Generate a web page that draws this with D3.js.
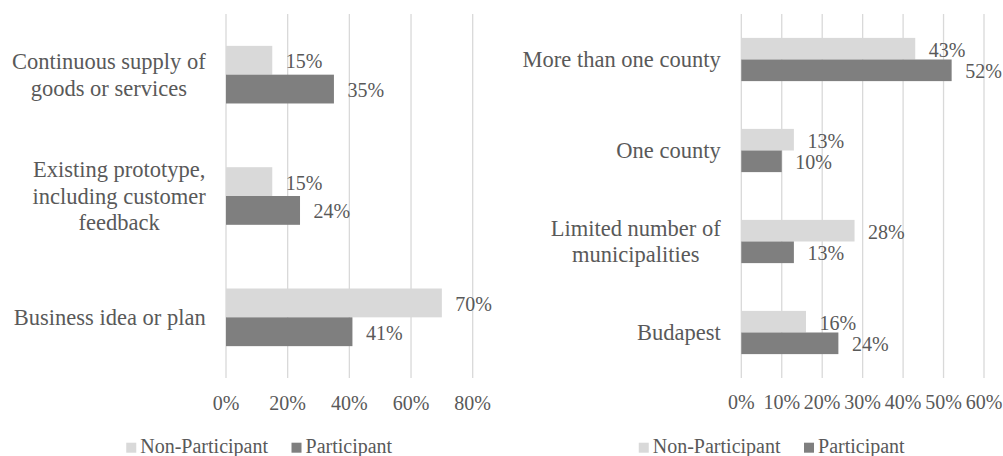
<!DOCTYPE html>
<html>
<head>
<meta charset="utf-8">
<script src="https://cdn.jsdelivr.net/npm/d3@7"></script>
<style>
  body { margin: 0; background: #fff; }
  svg { display: block; }
</style>
</head>
<body>
<svg id="chart" width="1003" height="456"></svg>
<script>
// data
const seriesNames = ["Non-Participant", "Participant"];
const seriesColors = ["#d9d9d9", "#7f7f7f"];

const leftCategories = [
  "Continuous supply of\ngoods or services",
  "Existing prototype,\nincluding customer\nfeedback",
  "Business idea or plan"
];
const leftNonParticipant = [15, 15, 70];
const leftParticipant = [35, 24, 41];
const leftTicks = [0, 20, 40, 60, 80];

const rightCategories = [
  "More than one county",
  "One county",
  "Limited number of\nmunicipalities",
  "Budapest"
];
const rightNonParticipant = [43, 13, 28, 16];
const rightParticipant = [52, 10, 13, 24];
const rightTicks = [0, 10, 20, 30, 40, 50, 60];

const FONT = "Liberation Serif";
const TEXT_COLOR = "#595959";

const svg = d3.select("#chart");

function label(sel, size) {
  return sel.attr("font-family", FONT)
    .attr("font-size", size)
    .attr("fill", TEXT_COLOR);
}

function drawPanel(opts) {
  const g = svg.append("g");
  const rows = opts.categories.map((c, i) => ({
    name: c,
    values: [opts.non[i], opts.part[i]]
  }));

  const x = d3.scaleLinear()
    .domain([0, d3.max(opts.ticks)])
    .range([opts.left, opts.right]);

  const y = d3.scaleBand()
    .domain(opts.categories)
    .range([opts.top, opts.bottom])
    .paddingInner(0.525)
    .paddingOuter(0.2625);

  const ySub = d3.scaleBand()
    .domain(seriesNames)
    .range([0, y.bandwidth()]);

  // gridlines
  g.append("g")
    .selectAll("line")
    .data(opts.ticks)
    .join("line")
    .attr("x1", d => x(d))
    .attr("x2", d => x(d))
    .attr("y1", opts.top)
    .attr("y2", opts.bottom)
    .attr("stroke", "#d9d9d9")
    .attr("stroke-width", 1.3);

  // tick labels
  g.append("g")
    .selectAll("text")
    .data(opts.ticks)
    .join("text")
    .call(label, 20)
    .attr("x", d => x(d))
    .attr("y", opts.tickY)
    .attr("text-anchor", "middle")
    .text(d => d + "%");

  // bars
  const grp = g.append("g")
    .selectAll("g")
    .data(rows)
    .join("g")
    .attr("transform", d => `translate(0,${y(d.name)})`);

  grp.selectAll("rect")
    .data(d => d.values.map((v, i) => ({ key: seriesNames[i], v, i })))
    .join("rect")
    .attr("x", x(0))
    .attr("y", d => ySub(d.key))
    .attr("width", d => x(d.v) - x(0))
    .attr("height", ySub.bandwidth())
    .attr("fill", d => seriesColors[d.i]);

  grp.selectAll("text")
    .data(d => d.values.map((v, i) => ({ key: seriesNames[i], v, i })))
    .join("text")
    .call(label, 20)
    .attr("x", d => x(d.v) + 13.5)
    .attr("y", d => ySub(d.key) + ySub.bandwidth() / 2 + 8)
    .text(d => d.v + "%");

  // category labels: block right-aligned, lines centred within block
  const lh = 26.7;
  rows.forEach(r => {
    const lines = r.name.split("\n");
    const cy = y(r.name) + y.bandwidth() / 2;
    const t = g.append("text")
      .call(label, 22.5)
      .attr("text-anchor", "middle");
    const spans = lines.map((ln, i) => t.append("tspan")
      .attr("y", cy + 7.5 + (i - (lines.length - 1) / 2) * lh)
      .text(ln));
    const w = d3.max(spans, s => s.node().getComputedTextLength());
    spans.forEach(s => s.attr("x", opts.labelRight - w / 2));
  });

  // legend
  const leg = g.append("g");
  let cx = 0;
  seriesNames.forEach((name, i) => {
    leg.append("rect")
      .attr("x", cx).attr("y", opts.legendY - 10)
      .attr("width", 10).attr("height", 10)
      .attr("fill", seriesColors[i]);
    const t = leg.append("text")
      .call(label, 20)
      .attr("x", cx + 14)
      .attr("y", opts.legendY)
      .text(name);
    cx += 14 + t.node().getComputedTextLength() + 23.5;
  });
  const total = cx - 23.5;
  leg.attr("transform", `translate(${opts.legendCenter - total / 2},0)`);
}

drawPanel({
  categories: leftCategories, non: leftNonParticipant, part: leftParticipant,
  ticks: leftTicks, left: 226, right: 472.7, top: 14, bottom: 378,
  tickY: 410, labelRight: 205.7, legendY: 452.7, legendCenter: 259.2
});

drawPanel({
  categories: rightCategories, non: rightNonParticipant, part: rightParticipant,
  ticks: rightTicks, left: 741.3, right: 984, top: 14, bottom: 378,
  tickY: 409, labelRight: 720.7, legendY: 452.7, legendCenter: 771.7
});
</script>
</body>
</html>
